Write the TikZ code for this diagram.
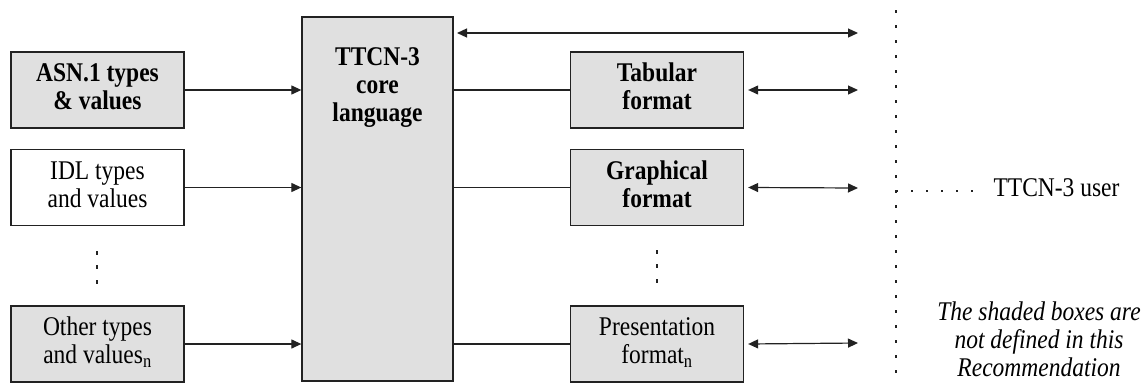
\documentclass[tikz,border=0pt]{standalone}
\usepackage{fontspec}
\setmainfont{Liberation Serif}
\usetikzlibrary{arrows.meta}
\definecolor{shade}{HTML}{E0E0E0}
\definecolor{ink}{HTML}{222222}
\newcommand\lbl[1]{\scalebox{0.87}[1]{\begin{tabular}{@{}c@{}}#1\end{tabular}}}
\begin{document}
\begin{tikzpicture}[x=1pt,y=-1pt,
  every node/.style={font=\fontsize{27}{28}\selectfont},
  box/.style={draw=ink,line width=1.3pt,rectangle,minimum width=173pt,minimum height=76pt,align=center,inner sep=0pt},
  shaded/.style={box,fill=shade},
  plain/.style={box,fill=white},
  conn/.style={draw=ink,line width=1.2pt},
  arr/.style={conn,-{Triangle[length=10pt,width=9pt]}},
  darr/.style={conn,{Triangle[length=10pt,width=9pt]}-{Triangle[length=10pt,width=9pt]}},
  vdots/.style={fill=ink,rectangle,inner sep=0pt,minimum width=2pt,minimum height=3.5pt},
  usertxt/.style={anchor=west},
  note/.style={align=center,font=\fontsize{27}{28}\selectfont\itshape}
]
\useasboundingbox (0,0) rectangle (1147,383);

% left column
\node[shaded,font=\fontsize{27}{28}\selectfont\bfseries] (asn) at (97.5,90) {\lbl{ASN.1 types\\\& values}};
\node[plain] (idl) at (97.5,187.5) {\lbl{IDL types\\and values}};
\node[shaded] (other) at (97.5,344) {\lbl{Other types\\and values\textsubscript{n}}};
\node[vdots] (ld1) at (97,253) {};
\node[vdots] (ld2) at (97,267) {};
\node[vdots] (ld3) at (97,282) {};

% core
\node[shaded,minimum width=151pt,minimum height=364pt] (core) at (377.5,199) {};
\node[font=\fontsize{27}{28}\selectfont\bfseries] (coretxt) at (377.5,88) {\lbl{TTCN-3\\core\\language}};

% right column
\node[shaded,font=\fontsize{27}{28}\selectfont\bfseries] (tab) at (657,90) {\lbl{Tabular\\format}};
\node[shaded,font=\fontsize{27}{28}\selectfont\bfseries] (graph) at (657,187.5) {\lbl{Graphical\\format}};
\node[shaded] (pres) at (657,344) {\lbl{Presentation\\format\textsubscript{n}}};
\node[vdots] (rd1) at (657,252) {};
\node[vdots] (rd2) at (657,266) {};
\node[vdots] (rd3) at (657,281) {};

% connectors left
\draw[arr] (asn.east) -- (asn.east -| core.west);
\draw[arr] (idl.east) -- (idl.east -| core.west);
\draw[arr] (other.east) -- (other.east -| core.west);

% connectors right
\draw[conn] (tab.west -| core.east) -- (tab.west);
\draw[conn] (graph.west -| core.east) -- (graph.west);
\draw[conn] (pres.west -| core.east) -- (pres.west);

\coordinate (topL) at (457,33);
\coordinate (topR) at (858,33);
\coordinate (tabR) at (858,90);
\coordinate (graphR) at (858,188);
\coordinate (presR) at (858,343);
\draw[darr] (topL) -- (topR);
\draw[darr] ([xshift=4pt]tab.east) -- (tabR);
\draw[darr] ([xshift=4pt]graph.east) -- (graphR);
\draw[darr] ([xshift=4pt]pres.east) -- (presR);

% user boundary
\coordinate (vtop) at (896,10);
\coordinate (vbot) at (896,383);
\draw[draw=ink,line width=1.2pt,dash pattern=on 3pt off 12pt] (vtop) -- (vbot);
\node[usertxt] (user) at (990,191) {\lbl{TTCN-3 user}};
\coordinate (hstart) at (896,191);
\draw[draw=ink,line width=1.2pt,dash pattern=on 2pt off 13pt] (hstart) -- ([xshift=-16pt]user.west);

\node[note] (notetxt) at (1039,343) {\lbl{The shaded boxes are\\not defined in this\\Recommendation}};
\end{tikzpicture}
\end{document}
